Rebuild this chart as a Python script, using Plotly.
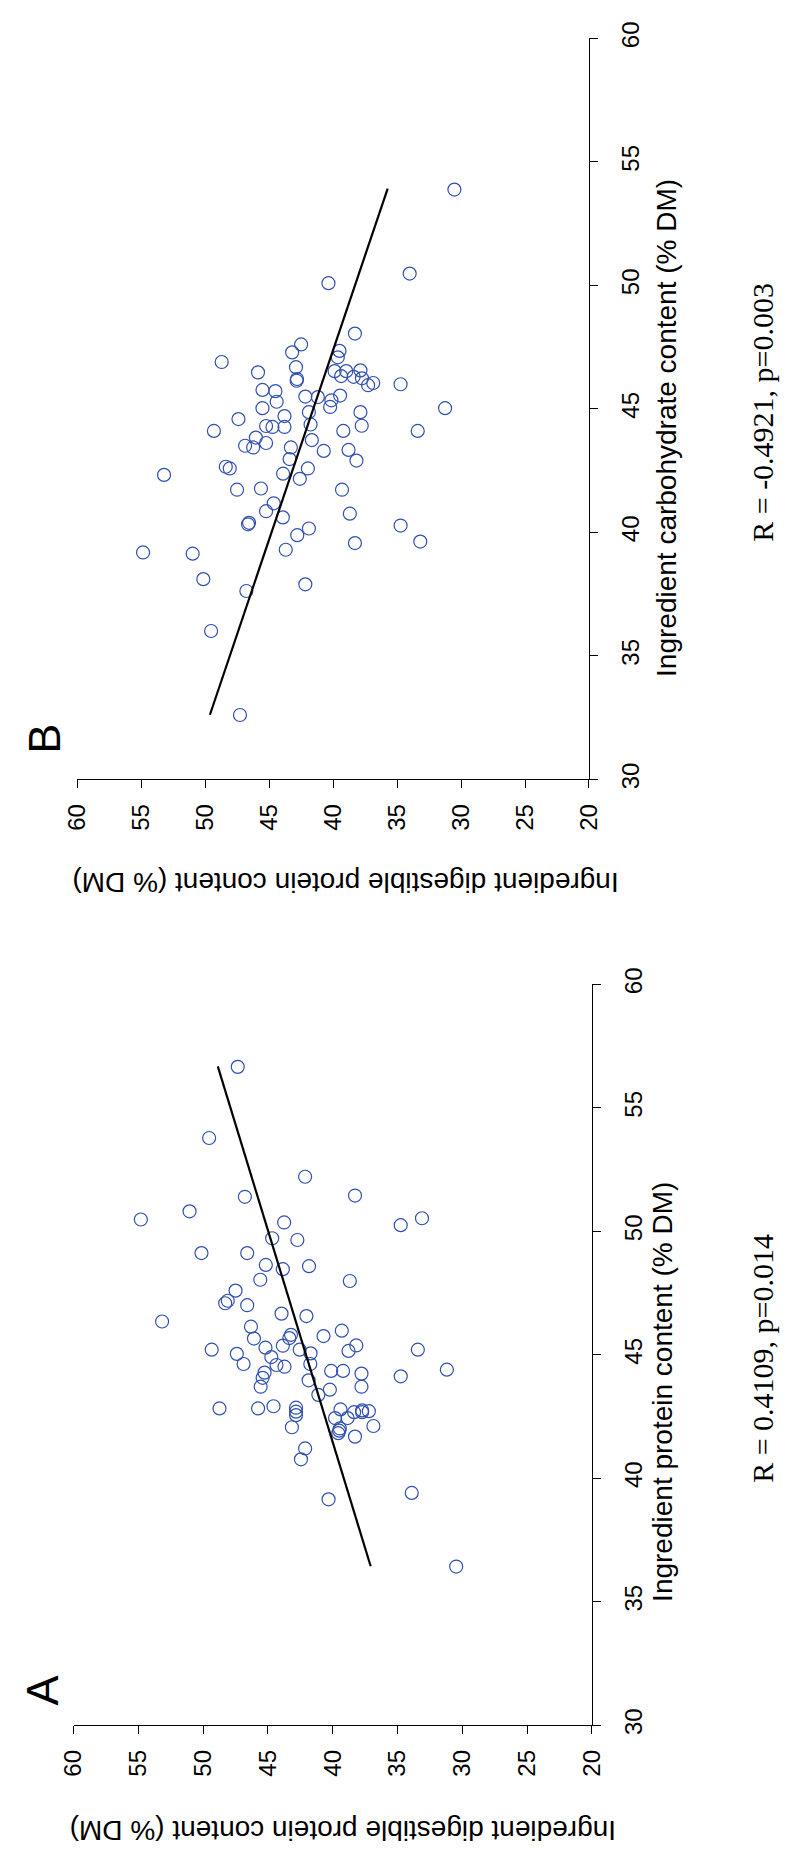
import plotly.graph_objects as go

W, H = 793, 1861

# ---- Panel B: digestible protein vs carbohydrate ----
dp_B = [30.52, 34.02, 40.37, 38.30, 42.51, 43.21, 39.51, 39.64, 48.72, 42.91,
        45.88, 39.89, 38.98, 37.87, 42.83, 42.86, 39.38, 38.40, 37.75, 36.87,
        37.27, 34.73, 45.53, 44.52, 42.18, 41.20, 39.46, 40.14, 44.42, 40.24,
        45.53, 41.90, 37.87, 31.25, 43.81, 47.41, 45.25, 44.75, 43.81, 41.77,
        37.77, 49.33, 39.21, 33.39, 46.05, 46.89, 46.26, 45.25, 43.31, 41.67,
        40.74, 38.80, 38.18, 43.41, 48.40, 48.09, 41.98, 53.23, 43.92, 42.61,
        47.52, 45.65, 39.31, 44.65, 45.25, 38.70, 43.94, 46.66, 46.58, 34.73,
        41.90, 42.81, 38.30, 33.19, 54.87, 50.99, 43.71, 50.16, 42.18, 46.79,
        49.55, 47.29]
carb_B = [53.88, 50.48, 50.09, 48.05, 47.61, 47.29, 47.35, 47.09, 46.90, 46.69,
          46.48, 46.53, 46.53, 46.56, 46.21, 46.14, 46.33, 46.30, 46.24, 46.05,
          45.96, 46.00, 45.77, 45.72, 45.50, 45.48, 45.54, 45.35, 45.29, 45.08,
          45.03, 44.87, 44.87, 45.03, 44.71, 44.59, 44.31, 44.27, 44.27, 44.37,
          44.32, 44.11, 44.11, 44.11, 43.84, 43.51, 43.44, 43.62, 43.44, 43.74,
          43.30, 43.34, 42.91, 42.97, 42.66, 42.59, 42.59, 42.33, 42.38, 42.17,
          41.73, 41.78, 41.73, 41.18, 40.86, 40.76, 40.61, 40.33, 40.39, 40.28,
          40.16, 39.89, 39.57, 39.63, 39.19, 39.14, 39.30, 38.11, 37.90, 37.63,
          36.01, 32.61]
fit_B_carb = [32.62, 53.92]
fit_B_dp = [49.64, 35.74]

# ---- Panel A: digestible protein vs protein ----
dp_A = [47.33, 49.54, 42.13, 46.78, 38.28, 51.05, 54.81, 43.75, 34.75, 33.11,
        44.67, 42.73, 50.13, 46.60, 45.16, 43.85, 41.83, 45.59, 38.68, 47.50,
        48.10, 48.30, 46.60, 43.95, 42.03, 53.17, 46.31, 39.30, 46.08, 43.22,
        43.35, 40.71, 49.34, 45.19, 43.85, 42.55, 41.71, 47.40, 38.78, 38.18,
        33.43, 44.74, 46.88, 44.34, 43.72, 41.73, 40.12, 39.20, 37.78, 45.26,
        45.41, 45.56, 41.86, 40.22, 37.78, 34.75, 31.19, 41.11, 48.74, 45.76,
        44.57, 42.83, 42.83, 42.83, 39.40, 39.82, 38.85, 38.35, 37.73, 37.73,
        37.21, 43.15, 36.86, 39.45, 39.57, 39.50, 38.28, 42.13, 42.45, 40.32,
        33.90, 30.47]
prot_A = [56.66, 53.78, 52.21, 51.40, 51.45, 50.81, 50.48, 50.36, 50.25, 50.53,
          49.72, 49.65, 49.12, 49.12, 48.64, 48.47, 48.59, 48.04, 47.99, 47.60,
          47.19, 47.09, 47.01, 46.67, 46.57, 46.35, 46.14, 45.98, 45.66, 45.81,
          45.68, 45.76, 45.21, 45.29, 45.37, 45.21, 45.06, 45.04, 45.16, 45.38,
          45.21, 44.91, 44.63, 44.59, 44.52, 44.63, 44.35, 44.35, 44.24, 44.28,
          44.07, 43.71, 43.97, 43.59, 43.71, 44.13, 44.40, 43.38, 42.83, 42.83,
          42.92, 42.86, 42.70, 42.56, 42.79, 42.44, 42.44, 42.68, 42.75, 42.68,
          42.72, 42.07, 42.12, 42.02, 41.83, 41.93, 41.69, 41.21, 40.77, 39.15,
          39.41, 36.43]
fit_A_prot = [36.44, 56.68]
fit_A_dp = [37.07, 48.87]

dp_ticks = [60, 55, 50, 45, 40, 35, 30, 25, 20]
x_ticks = [30, 35, 40, 45, 50, 55, 60]

POINT_COLOR = "rgb(48,80,176)"
SANS = "Liberation Sans, Arial, Helvetica, sans-serif"
SERIF = "Liberation Serif, Times New Roman, serif"


def px_x(v):
    return v / W


def px_y(v):
    return 1 - v / H


fig = go.Figure()

# the figure is laid out turned a quarter turn: digestible protein runs
# along the horizontal axis (high values to the left) and the predictor
# runs up the right-hand axis
fig.add_trace(go.Scatter(
    x=dp_B, y=carb_B, mode="markers", xaxis="x", yaxis="y",
    marker=dict(symbol="circle-open", size=13, color=POINT_COLOR,
                line=dict(width=1.2, color=POINT_COLOR)),
    showlegend=False, hoverinfo="skip"))
fig.add_trace(go.Scatter(
    x=fit_B_dp, y=fit_B_carb, mode="lines", xaxis="x", yaxis="y",
    line=dict(color="black", width=2.2), showlegend=False, hoverinfo="skip"))

fig.add_trace(go.Scatter(
    x=dp_A, y=prot_A, mode="markers", xaxis="x2", yaxis="y2",
    marker=dict(symbol="circle-open", size=13, color=POINT_COLOR,
                line=dict(width=1.2, color=POINT_COLOR)),
    showlegend=False, hoverinfo="skip"))
fig.add_trace(go.Scatter(
    x=fit_A_dp, y=fit_A_prot, mode="lines", xaxis="x2", yaxis="y2",
    line=dict(color="black", width=2.2), showlegend=False, hoverinfo="skip"))

common_x = dict(range=[60, 20], tickmode="array", tickvals=dp_ticks,
                ticktext=[str(t) for t in dp_ticks],
                ticks="outside", ticklen=8, tickwidth=1, tickcolor="black",
                showline=True, linecolor="black", linewidth=1,
                showgrid=False, zeroline=False, tickangle=-90,
                tickfont=dict(family=SANS, size=24, color="black"),
                ticklabelstandoff=6)
common_y = dict(range=[30, 60], tickmode="array", tickvals=x_ticks,
                ticktext=[str(t) for t in x_ticks], side="right",
                ticks="outside", ticklen=8, tickwidth=1, tickcolor="black",
                showline=True, linecolor="black", linewidth=1,
                showgrid=False, zeroline=False, tickangle=-90,
                tickfont=dict(family=SANS, size=24, color="black"),
                ticklabelstandoff=12)

fig.update_layout(
    width=W, height=H,
    margin=dict(l=0, r=0, t=0, b=0),
    paper_bgcolor="white", plot_bgcolor="white",
    xaxis=dict(domain=[px_x(65.7), px_x(595.2)], anchor="y", **common_x),
    yaxis=dict(domain=[px_y(773.7), px_y(21.7)], anchor="x", **common_y),
    xaxis2=dict(domain=[px_x(61.7), px_x(598.2)], anchor="y2", **common_x),
    yaxis2=dict(domain=[px_y(1733.5), px_y(981.6)], anchor="x2", **common_y),
)

labels = [
    # panel letters
    dict(text="B", x=31.5, y=732, angle=-90, size=45, family=SANS),
    dict(text="A", x=29, y=1698, angle=-90, size=45, family=SANS),
    # digestible protein titles (upside down after the turn)
    dict(text="Ingredient digestible protein content (% DM)", x=343, y=879,
         angle=180, size=28, family=SANS),
    dict(text="Ingredient digestible protein content (% DM)", x=340.6, y=1840,
         angle=180, size=28, family=SANS),
    # predictor titles
    dict(text="Ingredient carbohydrate content (% DM)", x=676, y=417,
         angle=-90, size=28, family=SANS),
    dict(text="Ingredient protein content (% DM)", x=672, y=1395,
         angle=-90, size=28, family=SANS),
    # correlation statistics
    dict(text="R = -0.4921, p=0.003", x=775, y=401, angle=-90, size=30,
         family=SERIF),
    dict(text="R = 0.4109, p=0.014", x=775, y=1361, angle=-90, size=30,
         family=SERIF),
]
for lab in labels:
    fig.add_annotation(
        text=lab["text"], x=px_x(lab["x"]), y=px_y(lab["y"]),
        xref="paper", yref="paper", xanchor="center", yanchor="middle",
        showarrow=False, textangle=lab["angle"],
        font=dict(family=lab["family"], size=lab["size"], color="black"))

fig.write_html("out.html")
